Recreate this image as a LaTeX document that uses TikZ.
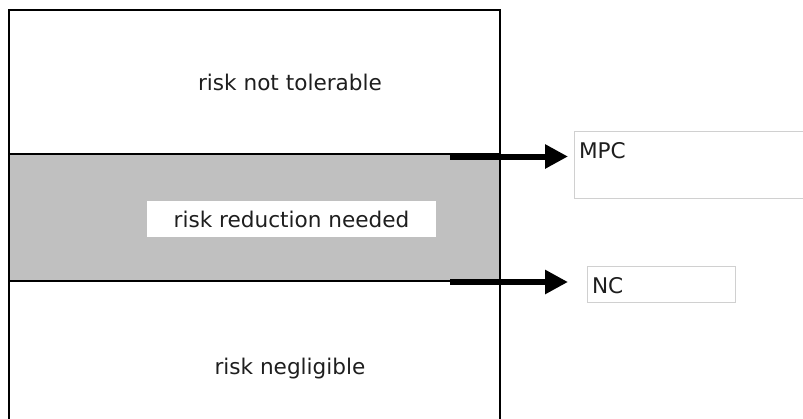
\documentclass[tikz,border=0pt]{standalone}
\usepackage{fontspec}
\setmainfont{DejaVu Sans}
\usetikzlibrary{arrows.meta}
\definecolor{bandgray}{HTML}{C0C0C0}
\definecolor{boxgray}{HTML}{D0D0D0}
\definecolor{textgray}{HTML}{1E1E1E}

\begin{document}
\begin{tikzpicture}[x=1pt,y=-1pt,inner sep=0pt,outer sep=0pt,
frame/.style={draw,line width=2pt},
zonetext/.style={font=\fontsize{21.6}{26}\selectfont,text=textgray},
valbox/.style={draw=boxgray,line width=1pt,rectangle,anchor=north west},
limitarrow/.style={line width=6pt,-{Triangle[length=23pt,width=23pt]}}]

\useasboundingbox (0,0) rectangle (803,418);

\fill[bandgray] (9,154) rectangle (500,281);
\draw[frame] (9,420) |- (500,10) -- (500,420);
\draw[frame] (9,154) -- (500,154);
\draw[frame] (9,281) -- (500,281);

\draw (290,82.5) node[zonetext] (nottol) {risk not tolerable};
\draw (291.5,219) node[zonetext,fill=white,minimum width=289,minimum height=36] (reduce) {risk reduction needed};
\draw (290,368.5) node[zonetext] (neglig) {risk negligible};

\draw (574,131) node[valbox,minimum width=240,minimum height=67] (mpc) {};
\draw (587,266) node[valbox,minimum width=148,minimum height=36] (nc) {};
\draw (579,158) node[zonetext,anchor=base west] (mpclabel) {MPC};
\draw (592,293) node[zonetext,anchor=base west] (nclabel) {NC};

\coordinate (upperlimit) at (450,156.5);
\coordinate (lowerlimit) at (450,282);
\coordinate (mpcin) at (568,156.5);
\coordinate (ncin) at (568,282);

\draw[limitarrow] (upperlimit) -- (mpcin);
\draw[limitarrow] (lowerlimit) -- (ncin);
\end{tikzpicture}
\end{document}
